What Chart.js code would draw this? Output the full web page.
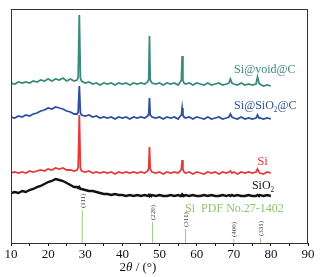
<!DOCTYPE html>
<html><head><meta charset="utf-8">
<script src="https://cdn.jsdelivr.net/npm/chart.js@4/dist/chart.umd.min.js"></script>
<style>html,body{margin:0;padding:0;background:#fff}#c{display:block}</style>
</head><body>
<canvas id="c" width="322" height="277"></canvas>
<script>
const twoTheta = [10,11,12,13,14,15,16,17,18,19,20,21,22,23,24,25,26,27,27.8,28.1,28.4,28.7,29,30,31,32,33,34,35,36,37,38,39,40,41,42,43,44,45,46,46.8,47.1,47.3,47.5,47.8,48,49,50,51,52,53,54,55,55.6,55.9,56.1,56.3,56.6,57,58,59,60,61,62,63,64,65,66,67,68,68.7,69.1,69.5,70,71,72,73,74,75,76,76.4,76.8,77,78,79,80];
const siVoidC = [160,159,161,160,161,160,162,161,163,162,164,162,164,163,165,162,164,162, 163,166,228,165,162, 160,161,159,160,158,160,159,160,158,160,159,160,158,160,159,160,159, 161,164,207,163,161, 160,159,160,158,160,159,160,158, 161,163,187,163,160, 159,160,158,160,159,158,160,158,159,160,158,159, 160,164,160, 159,158,160,158,159,158,159, 166,160, 159,157,158,157];
const siSiO2C = [126,125,127,126,128,127,129,130,132,133,135,134,136,135,134,132,131,129, 129,131,157,130,128, 127,128,126,127,125,126,125,126,124,126,125,126,124,126,125,126,125, 127,129,145,128,127, 126,125,126,124,126,125,126,124, 127,128,135,128,126, 125,126,124,126,125,124,126,124,125,126,124,125, 126,129,126, 125,124,126,124,125,124,125, 128,125, 125,124,125,124];
const si = [70,71,70,71,70,72,71,72,73,72,74,73,75,74,75,73,73,72, 73,76,128,75,72, 71,72,70,71,70,71,70,71,69,71,70,71,70,71,70,71,70, 72,75,96,74,72, 71,70,71,69,71,70,71,70, 72,74,83,74,71, 70,71,69,71,70,69,71,70,71,69,71,70, 71,72,70, 71,69,71,70,71,70,71, 74,71, 70,69,71,70];
const sio2 = [50,51,50,52,51,53,54,56,57,59,61,62,64,63,62,60,58,56, 56,55,56,54,54, 53,52,52,51,50,49,49,48,49,48,48,47,48,47,48,47,48, 47,48,47,48,47, 48,47,48,47,47,48,47,48, 47,48,47,48,47, 48,47,48,47,47,48,47,48,47,47,48,47, 48,47,48, 47,48,47,47,48,47,47, 48,47, 48,47,48,47];
const refAngles = [29.2, 48.1, 57.0, 70.0, 77.2];
const refHeights = [33, 21, 14, 4, 5];
const refLabels = ['(111)', '(220)', '(311)', '(400)', '(331)'];
const xTicks = [10, 20, 30, 40, 50, 60, 70, 80, 90];

const serif = '"Liberation Serif", "DejaVu Serif", serif';
const pts = arr => twoTheta.map((x, i) => ({x: x, y: arr[i]}));
const sticks = [];
refAngles.forEach((a, i) => { sticks.push({x: a, y: 0}, {x: a, y: refHeights[i]}, {x: a, y: null}); });

const textPlugin = {
  id: 'texts',
  afterDraw(chart) {
    const {ctx, chartArea: ca, scales: {x, y}} = chart;
    ctx.save();
    ctx.strokeStyle = '#333'; ctx.lineWidth = 1;
    ctx.strokeRect(ca.left + 0.5, ca.top + 0.5, ca.right - ca.left - 1, ca.bottom - ca.top);
    const rich = (parts, xv, yv, color, size) => {
      let px = x.getPixelForValue(xv); const py = y.getPixelForValue(yv);
      ctx.fillStyle = color; ctx.textBaseline = 'middle'; ctx.textAlign = 'left';
      parts.forEach(p => {
        const sub = p[1];
        ctx.font = (sub ? size * 0.6 : size) + 'px ' + serif;
        ctx.fillText(p[0], px, py + (sub ? size * 0.35 : 0));
        px += ctx.measureText(p[0]).width;
      });
    };
    rich([['Si@void@C']], 70.1, 173, '#3a8a7c', 12);
    rich([['Si@SiO'], ['2', 1], ['@C']], 70.1, 137, '#2d4f9c', 12);
    rich([['Si']], 76.3, 81, '#e23a3a', 13);
    rich([['SiO'], ['2', 1]], 74.9, 57, '#111', 12);
    rich([['Si  PDF No.27-1402']], 56.9, 34, '#8fc46e', 12);
    ctx.font = '7px ' + serif; ctx.fillStyle = '#444';
    refAngles.forEach((a, i) => {
      ctx.save();
      ctx.translate(x.getPixelForValue(a) + 0.5, y.getPixelForValue(refHeights[i]) - 2);
      ctx.rotate(-Math.PI / 2);
      ctx.textAlign = 'left'; ctx.textBaseline = 'middle';
      ctx.fillText(refLabels[i], 0, 0);
      ctx.restore();
    });
    const tx = x.getPixelForValue(44.2), ty = y.getPixelForValue(-25);
    ctx.fillStyle = '#111'; ctx.textBaseline = 'middle';
    const parts = [['2', ''], ['\u03B8', 'italic '], [' / (\u00B0)', '']];
    let w = 0;
    parts.forEach(p => { ctx.font = p[1] + '13px ' + serif; w += ctx.measureText(p[0]).width; });
    let px = tx - w / 2;
    parts.forEach(p => { ctx.font = p[1] + '13px ' + serif; ctx.textAlign = 'left'; ctx.fillText(p[0], px, ty); px += ctx.measureText(p[0]).width; });
    ctx.restore();
  }
};

new Chart(document.getElementById('c'), {
  type: 'line',
  data: {
    datasets: [
      {data: pts(siVoidC), borderColor: '#3a8a7c', borderWidth: 1.8},
      {data: pts(siSiO2C), borderColor: '#2d4f9c', borderWidth: 1.8},
      {data: pts(si), borderColor: '#e8393a', borderWidth: 1.8},
      {data: pts(sio2), borderColor: '#111', borderWidth: 2.4},
      {data: sticks, borderColor: '#9fcd80', borderWidth: 1, spanGaps: false}
    ]
  },
  options: {
    responsive: false, animation: false, events: [],
    elements: {point: {radius: 0}, line: {tension: 0}},
    layout: {padding: {left: 11, right: 14, top: 9, bottom: 14}},
    plugins: {legend: {display: false}, tooltip: {enabled: false}},
    scales: {
      x: {
        type: 'linear', min: 10, max: 90,
        afterFit: s => { s.height = 20; },
        afterBuildTicks: s => { const t = []; for (let v = 10; v <= 90; v += 5) t.push({value: v}); s.ticks = t; },
        ticks: {autoSkip: false, maxRotation: 0, padding: 1, color: '#111', font: {family: serif, size: 13},
          callback: v => xTicks.includes(v) ? String(v) : ''},
        grid: {drawOnChartArea: false, drawTicks: true, tickLength: 3, color: '#111'},
        border: {display: true, color: '#111'}
      },
      y: {min: 0, max: 234, display: false}
    }
  },
  plugins: [textPlugin]
});
</script>
</body></html>
